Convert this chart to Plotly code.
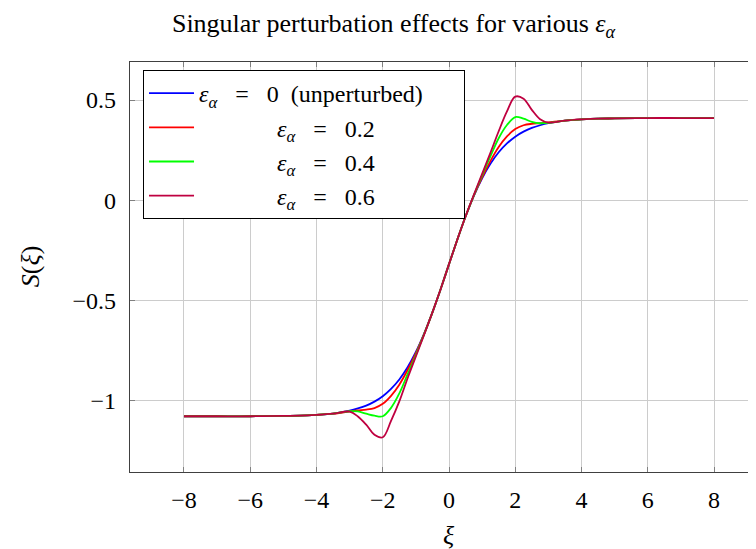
import plotly.graph_objects as go

xi = [-8, -7, -6, -5, -4.5, -4, -3.5, -3, -2.75, -2.5, -2.25, -2, -1.75, -1.5, -1.25, -1,
      -0.75, -0.5, -0.25, 0, 0.25, 0.5, 0.75, 1, 1.25, 1.5, 1.75, 2, 2.25, 2.5, 2.75, 3,
      3.5, 4, 4.5, 5, 6, 7, 8]

s_eps0 = [-1.080, -1.080, -1.080, -1.078, -1.077, -1.073, -1.067, -1.052, -1.041, -1.027,
          -1.007, -0.980, -0.943, -0.896, -0.835, -0.759, -0.667, -0.561, -0.444, -0.320,
          -0.198, -0.082, 0.021, 0.109, 0.181, 0.239, 0.283, 0.317, 0.342, 0.361, 0.374,
          0.384, 0.397, 0.403, 0.407, 0.408, 0.410, 0.410, 0.410]

s_eps02 = [-1.080, -1.080, -1.080, -1.078, -1.077, -1.073, -1.067, -1.056, -1.051, -1.047,
           -1.039, -1.018, -0.978, -0.922, -0.849, -0.764, -0.668, -0.561, -0.444, -0.320,
           -0.198, -0.082, 0.022, 0.114, 0.195, 0.265, 0.318, 0.355, 0.374, 0.381, 0.384,
           0.388, 0.397, 0.403, 0.407, 0.408, 0.410, 0.410, 0.410]

s_eps04 = [-1.080, -1.080, -1.080, -1.078, -1.077, -1.073, -1.067, -1.055, -1.056, -1.067,
           -1.077, -1.080, -1.038, -0.966, -0.870, -0.774, -0.670, -0.561, -0.444, -0.320,
           -0.198, -0.082, 0.024, 0.124, 0.218, 0.309, 0.375, 0.415, 0.407, 0.391, 0.384,
           0.386, 0.397, 0.403, 0.407, 0.408, 0.410, 0.410, 0.410]

s_eps06 = [-1.080, -1.080, -1.080, -1.078, -1.077, -1.073, -1.067, -1.057, -1.081, -1.122,
           -1.172, -1.185, -1.103, -1.006, -0.890, -0.781, -0.672, -0.561, -0.444, -0.320,
           -0.198, -0.082, 0.026, 0.131, 0.236, 0.344, 0.443, 0.517, 0.507, 0.451, 0.404,
           0.387, 0.397, 0.403, 0.407, 0.408, 0.410, 0.410, 0.410]

NB = "\u00a0"
EPS = "<i>ε</i><sub><i>α</i></sub>"
EQ = NB * 3 + "=" + NB * 3
PAD = NB * 13
series = [
    (EPS + EQ + "0" + NB * 2 + "(unperturbed)" + NB * 6, s_eps0, "#0000ff"),
    (PAD + EPS + EQ + "0.2", s_eps02, "#ff0000"),
    (PAD + EPS + EQ + "0.4", s_eps04, "#00ff00"),
    (PAD + EPS + EQ + "0.6", s_eps06, "#bf0040"),
]

FONT = "Liberation Serif, serif"

fig = go.Figure()
for name, ys, col in series:
    fig.add_trace(go.Scatter(x=xi, y=ys, mode="lines", name=name,
                             line=dict(color=col, width=1.8, shape="spline", smoothing=1.0)))

axis_common = dict(
    showgrid=True, gridcolor="#cccccc", gridwidth=1,
    showline=True, linecolor="#404040", linewidth=1.2,
    ticks="inside", ticklen=5, tickcolor="#808080", tickwidth=1,
    zeroline=False,
    tickfont=dict(family=FONT, size=24, color="#000000"),
)

W, H = 748, 541
ML, MR, MT, MB = 122, 0, 54, 77
plot_h = H - MT - MB
plot_w = W - ML - MR

fig.update_layout(
    width=W, height=H,
    margin=dict(l=ML, r=MR, t=MT, b=MB),
    paper_bgcolor="white", plot_bgcolor="white",
    font=dict(family=FONT, size=24, color="#000000"),
    title=dict(text="Singular perturbation effects for various " + EPS,
               x=385.5 / W, xref="container", xanchor="center",
               y=1 - 15 / H, yref="container", yanchor="middle",
               font=dict(family=FONT, size=26, color="#000000")),
    xaxis=dict(range=[-9.63, 9.268], dtick=2, tick0=0, mirror="ticks",
               ticklabelstandoff=6, **axis_common),
    yaxis=dict(range=[-1.3585, 0.69], dtick=0.5, tick0=0, mirror=False,
               ticklabelstandoff=8, **axis_common),
    legend=dict(x=0.0208, y=0.9805, xanchor="left", yanchor="top",
                bgcolor="white", bordercolor="#000000", borderwidth=1,
                font=dict(family=FONT, size=24, color="#000000"),
                itemwidth=45, tracegroupgap=0),
    showlegend=True,
    annotations=[
        dict(text="<i>ξ</i>", x=0, xref="x", y=-(527.5 - (H - MB)) / plot_h, yref="paper",
             yanchor="middle", showarrow=False, font=dict(family=FONT, size=26)),
        dict(text="<i>S</i>(<i>ξ</i>)", x=-(ML - 22) / plot_w, xref="paper", xanchor="center",
             y=-0.335, yref="y", showarrow=False, textangle=-90,
             font=dict(family=FONT, size=26)),
    ],
)

fig.write_html("out.html")
